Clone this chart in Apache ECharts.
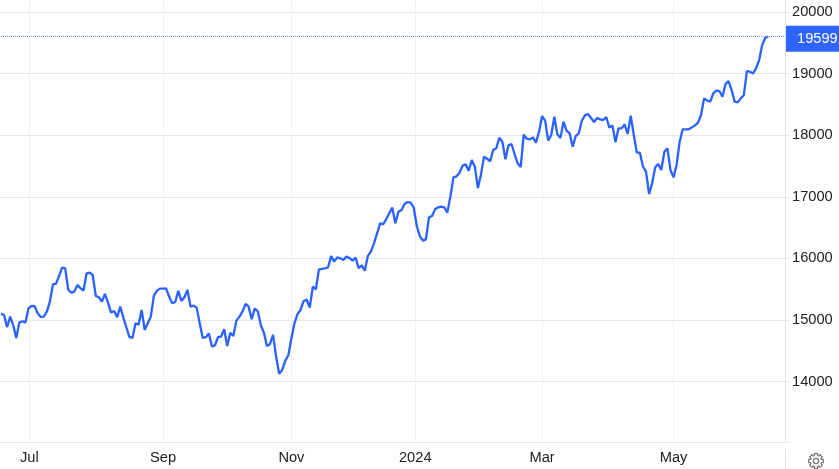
<!DOCTYPE html>
<html>
<head>
<meta charset="utf-8">
<style>html,body{margin:0;padding:0;background:#fff}#c{width:839px;height:469px}</style>
<script src="https://cdn.jsdelivr.net/npm/echarts@6/dist/echarts.min.js"></script>
</head>
<body>
<div id="c"></div>
<script>
const valuesJunToAug = [15097,15081,14881,15054,14913,14708,14957,14978,14957,15189,15227,15222,15108,15049,15054,15135,15298,15579,15590,15714,15849,15839,15487,15444,15460,15568,15514,15476,15757,15768,15730,15390,15368,15298,15422,15281,15119,15146,15043,15216,15043,14881,14724,14708,14946,14924,15162,14838,14946,15054,15390,15476,15508,15508,15514,15379,15270,15292,15471,15308,15368,15487,15216,15232,15200,14946];
const valuesSepToDec = [14708,14719,14778,14567,14589,14719,14730,14849,14578,14789,14740,14989,15054,15135,15260,15216,15011,15184,15141,14913,14794,14578,14610,14757,14405,14124,14189,14340,14427,14702,14946,15097,15162,15308,15330,15200,15541,15498,15822,15828,15839,15855,16039,15947,16017,16001,15974,16028,16006,15963,16012,15839,15887,15801,16039,16109,16244,16400];
const valuesDecToMar = [16569,16553,16634,16731,16823,16569,16758,16780,16883,16915,16904,16829,16526,16363,16288,16309,16666,16688,16796,16829,16839,16829,16742,17002,17315,17332,17391,17505,17526,17424,17597,17489,17142,17359,17651,17618,17575,17759,17786,17959,17894,17608,17835,17857,17694,17543,17483,18008,17943,17932,17965,17878,18057,18311,18235,17911,18003,18300,18013,17954,18219,18073,18030,17813,17986,18030];
const valuesMarToMay = [18235,18322,18343,18278,18214,18278,18257,18246,18295,18122,18159,17884,18111,18111,18176,18019,18316,18003,17716,17716,17489,17407,17045,17218,17478,17532,17435,17732,17786,17435,17315,17516,17894,18095,18095,18095,18127,18159,18203];
const valuesMayToJun = [18327,18598,18560,18544,18679,18722,18717,18625,18830,18879,18733,18544,18533,18598,18652,19041,19030,19003,19085,19220,19463,19582,19599];
const values = [...valuesJunToAug, ...valuesSepToDec, ...valuesDecToMar, ...valuesMarToMay, ...valuesMayToJun];
const xTickLabels = ['Jul','Sep','Nov','2024','Mar','May'];
const xTickPositions = [9.25,53,95,135.5,177,220];
const yTicks = [14000,15000,16000,17000,18000,19000,20000];
const lastValue = values[values.length-1];

const fontFamily = '"Liberation Sans", Arial, sans-serif';
const chart = echarts.init(document.getElementById('c'), null, {renderer:'canvas'});

// gear icon outline
function gearPoints(cx, cy, rOut, rIn){
  const n = 8, pts = [];
  for(let i=0;i<n;i++){
    const a = i*2*Math.PI/n, w = Math.PI/n*0.55, g = Math.PI/n*0.72;
    [[rIn,a-g],[rOut,a-w],[rOut,a+w],[rIn,a+g]].forEach(q=>{
      pts.push([cx+q[0]*Math.cos(q[1]), cy+q[0]*Math.sin(q[1])]);
    });
  }
  return pts;
}

chart.setOption({
  animation:false,
  backgroundColor:'#fff',
  grid:{left:1,top:0,width:784,height:442,containLabel:false},
  xAxis:{
    type:'value', min:0, max:256.46,
    axisLine:{show:true,onZero:false,lineStyle:{color:'#e4e4e4',width:1}},
    axisTick:{show:false,customValues:xTickPositions},
    splitLine:{show:true,lineStyle:{color:'#eff1f3',width:1}},
    axisLabel:{
      customValues:xTickPositions, margin:8, color:'#222', fontSize:14.67, fontFamily, hideOverlap:false,
      showMinLabel:true, showMaxLabel:true,
      formatter:v=>xTickLabels[xTickPositions.indexOf(v)]
    }
  },
  yAxis:{
    type:'value', position:'right', min:13018, max:20195,
    axisLine:{show:true,onZero:false,lineStyle:{color:'#e4e4e4',width:1}},
    axisTick:{show:true,length:4,customValues:yTicks,lineStyle:{color:'#e4e4e4'}},
    splitLine:{show:true,lineStyle:{color:'#e6e6e6',width:1}},
    axisLabel:{customValues:yTicks,margin:7,color:'#222',fontSize:14.67,fontFamily,formatter:v=>String(v)}
  },
  series:[{
    type:'line',
    data:values.map((v,i)=>[i,v]),
    showSymbol:false,
    lineStyle:{color:'#2962ff',width:2.3},
    itemStyle:{color:'#2962ff'},
    clip:false,
    markLine:{
      silent:true,symbol:'none',animation:false,
      lineStyle:{color:'#6f8fe8',type:[1,1],width:1},
      label:{
        show:true,position:'end',distance:1,formatter:p=>String(Math.round(p.value)),
        color:'#fff',fontSize:14.67,fontFamily,backgroundColor:'#2e64ff',
        width:42,height:26,lineHeight:26,padding:[0,0,0,11],align:'left',offset:[0,2]
      },
      data:[{yAxis:lastValue}]
    }
  }],
  graphic:[
    {type:'line',silent:true,shape:{x1:785.5,y1:449,x2:785.5,y2:469},style:{stroke:'#e4e4e4',lineWidth:1}},
    {type:'line',silent:true,shape:{x1:786,y1:442.5,x2:790,y2:442.5},style:{stroke:'#e4e4e4',lineWidth:1}},
    {type:'polygon',silent:true,shape:{points:gearPoints(816,461,7.5,5.6)},
     style:{fill:'none',stroke:'#777',lineWidth:1.2}},
    {type:'circle',silent:true,shape:{cx:816,cy:461,r:2.6},style:{fill:'none',stroke:'#777',lineWidth:1.2}}
  ]
});
</script>
</body>
</html>
